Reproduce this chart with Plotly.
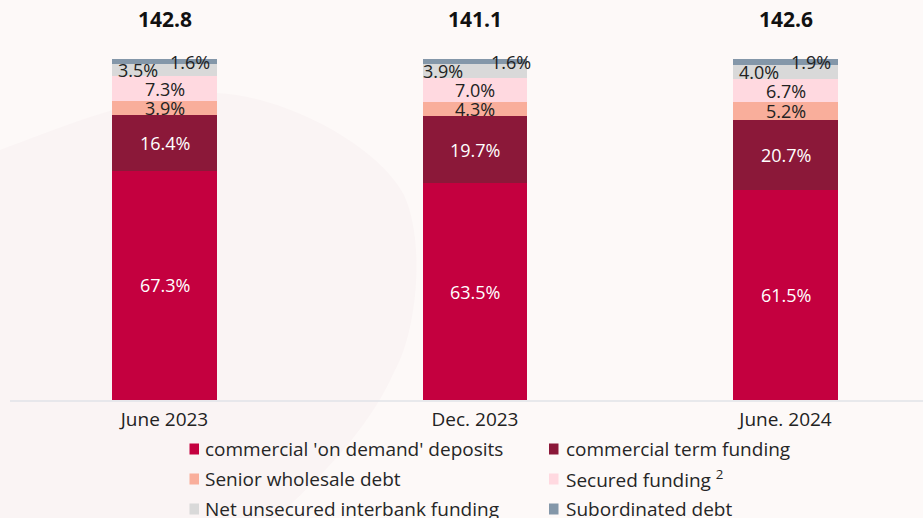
import plotly.graph_objects as go

# ---- data -------------------------------------------------------------
periods = ["June 2023", "Dec. 2023", "June. 2024"]
totals = [142.8, 141.1, 142.6]

series_names = [
    "commercial 'on demand' deposits",
    "commercial term funding",
    "Senior wholesale debt",
    "Secured funding <sup>2</sup>",
    "Net unsecured interbank funding",
    "Subordinated debt",
]
on_demand = [67.3, 63.5, 61.5]
term_funding = [16.4, 19.7, 20.7]
senior_wholesale = [3.9, 4.3, 5.2]
secured_funding = [7.3, 7.0, 6.7]
net_unsecured = [3.5, 3.9, 4.0]
subordinated = [1.6, 1.6, 1.9]

series_values = [on_demand, term_funding, senior_wholesale,
                 secured_funding, net_unsecured, subordinated]

# ---- styling ----------------------------------------------------------
colors = ["#C4003F", "#8B1839", "#F9AE9B", "#FFD9E0", "#D9D9D9", "#8497A9"]
label_colors = ["#FFFFFF", "#FFFFFF", "#222222", "#222222", "#222222", "#222222"]
# horizontal nudges (px) for the thin top segments' labels, per period
label_xshift = {
    4: [-27, -32, -27],
    5: [25, 36, 25],
}

FONT = "Open Sans"
W, H = 923, 518
MARGIN_B = 118
PLOT_H = H - MARGIN_B
Y_MAX = 117.3


def px_to_paper(x, y):
    return x / W, (PLOT_H - y) / PLOT_H


fig = go.Figure()

for name, vals, col in zip(series_names, series_values, colors):
    fig.add_trace(go.Bar(
        x=periods, y=vals, name=name,
        marker=dict(color=col, line=dict(width=0)),
        width=0.338, showlegend=False, hoverinfo="skip",
    ))

annotations = []

# segment percentages
for i, vals in enumerate(series_values):
    for j, p in enumerate(periods):
        base = sum(series_values[k][j] for k in range(i))
        annotations.append(dict(
            x=p, y=base + vals[j] / 2, xref="x", yref="y",
            text=f"{vals[j]:.1f}%", showarrow=False,
            xshift=label_xshift.get(i, [0, 0, 0])[j],
            font=dict(family=FONT, size=18, color=label_colors[i]),
        ))

# totals above the bars
for p, t in zip(periods, totals):
    annotations.append(dict(
        x=p, y=111.7, xref="x", yref="y", text=f"<b>{t:.1f}</b>",
        showarrow=False, font=dict(family=FONT, size=21, color="#111111"),
    ))

# legend laid out in two columns
shapes = []
col_marker_x = [189.5, 549]
col_text_x = [203, 564]
row_y = [449, 479, 509]
for i, (name, col) in enumerate(zip(series_names, colors)):
    r, c = divmod(i, 2)
    x0, y0 = px_to_paper(col_marker_x[c], row_y[r] - 5.5)
    x1, y1 = px_to_paper(col_marker_x[c] + 9.5, row_y[r] + 5.5)
    shapes.append(dict(type="rect", xref="paper", yref="paper",
                       x0=x0, x1=x1, y0=y0, y1=y1,
                       fillcolor=col, line=dict(width=0)))
    tx, ty = px_to_paper(col_text_x[c], row_y[r])
    annotations.append(dict(
        x=tx, y=ty, xref="paper", yref="paper", text=name,
        xanchor="left", yanchor="middle", showarrow=False,
        font=dict(family=FONT, size=19, color="#262626"),
    ))

# soft background blob
pts = [(-60, 175), (0, 150)]
path = "M {:.4f},{:.4f} L {:.4f},{:.4f} ".format(*px_to_paper(*pts[0]), *px_to_paper(*pts[1]))
curves = [
    [(60, 128), (150, 90), (217, 93)],
    [(290, 97), (380, 148), (404, 195)],
    [(425, 240), (418, 330), (394, 372)],
    [(368, 432), (310, 490), (250, 540)],
]
for seg in curves:
    path += "C " + " ".join("{:.4f},{:.4f}".format(*px_to_paper(*q)) for q in seg) + " "
path += "L {:.4f},{:.4f} Z".format(*px_to_paper(-60, 540))
shapes.insert(0, dict(type="path", path=path, xref="paper", yref="paper",
                      fillcolor="#FAF4F4", line=dict(width=0), layer="below"))

# baseline
bx0, by = px_to_paper(10, 401)
shapes.append(dict(type="line", xref="paper", yref="paper",
                   x0=bx0, x1=1, y0=by, y1=by,
                   line=dict(color="#E1E3E8", width=1.5), layer="below"))

fig.update_layout(
    barmode="stack",
    width=W, height=H,
    margin=dict(l=0, r=0, t=0, b=MARGIN_B),
    paper_bgcolor="#FDF9F8",
    plot_bgcolor="rgba(0,0,0,0)",
    annotations=annotations,
    shapes=shapes,
    xaxis=dict(range=[-0.5298, 2.4428], showgrid=False, zeroline=False,
               showline=False, ticks="", ticklabelstandoff=6,
               tickfont=dict(family=FONT, size=19, color="#222222")),
    yaxis=dict(range=[0, Y_MAX], visible=False),
)

fig.write_html("out.html")
